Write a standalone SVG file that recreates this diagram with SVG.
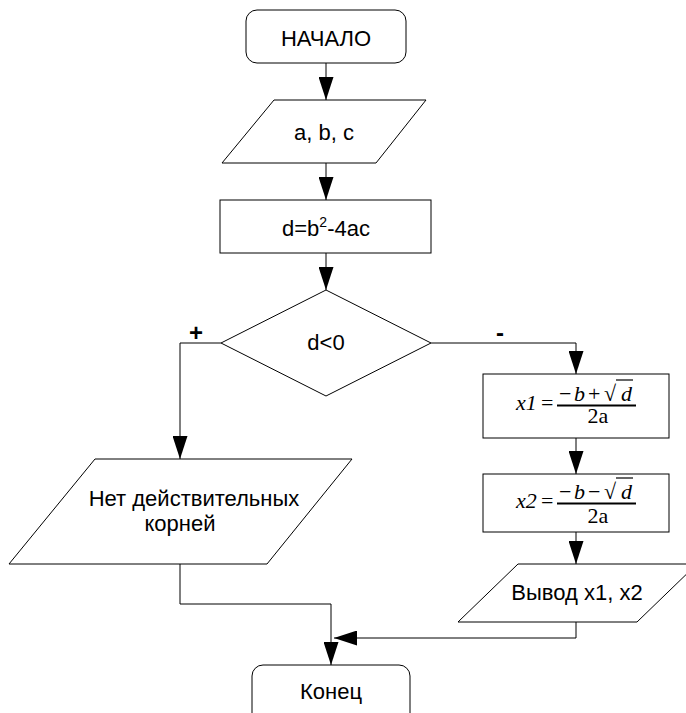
<svg xmlns="http://www.w3.org/2000/svg" width="686" height="713" viewBox="0 0 686 713">
<style>
.s{fill:#fff;stroke:#000;stroke-width:1}
.t{font-family:"Liberation Sans",Arial,sans-serif;font-size:22px;fill:#000;text-anchor:middle}
.m{font-family:"Liberation Serif","Times New Roman",serif;font-size:22px;fill:#000}
.i{font-style:italic}
.c{fill:none;stroke:#000;stroke-width:1}
.b{font-family:"Liberation Sans",Arial,sans-serif;font-size:24px;font-weight:bold;fill:#000;text-anchor:middle}
.f{stroke:#000;stroke-width:2}
.o{stroke:#000;stroke-width:1.2}
</style>
<defs>
<marker id="ah" markerUnits="userSpaceOnUse" markerWidth="23" markerHeight="15" refX="23" refY="7.5" orient="auto">
<path d="M0,0 L23,7.5 L0,15 z" fill="#000"/>
</marker>
</defs>
<rect width="686" height="713" fill="#fff"/>
<g id="connectors">
<path class="c" d="M326,63 V100" marker-end="url(#ah)"/>
<path class="c" d="M326,163 V200" marker-end="url(#ah)"/>
<path class="c" d="M326,253 V290" marker-end="url(#ah)"/>
<path class="c" d="M221,343 H180 V459" marker-end="url(#ah)"/>
<path class="c" d="M431,343 H576 V374" marker-end="url(#ah)"/>
<path class="c" d="M576,438 V474" marker-end="url(#ah)"/>
<path class="c" d="M576,532 V564" marker-end="url(#ah)"/>
<path class="c" d="M180,564 V604 H331 V665" marker-end="url(#ah)"/>
<path class="c" d="M576,622 V638 H334" marker-end="url(#ah)"/>
<text class="b" x="196" y="341">+</text>
<text class="b" x="500" y="341">-</text>
</g>
<g id="start">
<rect class="s" x="246" y="10" width="160" height="53" rx="11"/>
<text class="t" x="326" y="46">НАЧАЛО</text>
</g>
<g id="input">
<path class="s" d="M274,100 H426 L376,163 H222 Z"/>
<text class="t" x="324" y="140">a, b, c</text>
</g>
<g id="calc-d">
<rect class="s" x="220" y="200" width="211" height="53"/>
<text class="t" x="326" y="236">d=b<tspan font-size="14" dy="-9">2</tspan><tspan dy="9">-4ac</tspan></text>
</g>
<g id="decision">
<path class="s" d="M326,290 L431,343 L326,396 L221,343 Z"/>
<text class="t" x="326" y="350">d&lt;0</text>
</g>
<g id="no-roots">
<path class="s" d="M95,459 H352 L267,564 H9 Z"/>
<text class="t" x="194" y="506">Нет действительных</text>
<text class="t" x="180" y="531">корней</text>
</g>
<g id="x1">
<rect class="s" x="483" y="374" width="186" height="64"/>
<text class="m i" x="516" y="410">x1</text>
<text class="m" x="541" y="410">=</text>
<line class="f" x1="557" y1="405.5" x2="636" y2="405.5"/>
<text class="m" x="559" y="401">−</text>
<text class="m i" x="574" y="401">b</text>
<text class="m" x="588" y="401">+</text>
<text class="m" x="604" y="401">√</text>
<line class="o" x1="616" y1="380" x2="633" y2="380"/>
<text class="m i" x="621" y="401">d</text>
<text class="m" x="598" y="423" text-anchor="middle">2a</text>
</g>
<g id="x2">
<rect class="s" x="483" y="474" width="186" height="58"/>
<text class="m i" x="516" y="508">x2</text>
<text class="m" x="541" y="508">=</text>
<line class="f" x1="557" y1="503.5" x2="636" y2="503.5"/>
<text class="m" x="559" y="499">−</text>
<text class="m i" x="574" y="499">b</text>
<text class="m" x="588" y="499">−</text>
<text class="m" x="604" y="499">√</text>
<line class="o" x1="616" y1="478" x2="633" y2="478"/>
<text class="m i" x="621" y="499">d</text>
<text class="m" x="598" y="523" text-anchor="middle">2a</text>
</g>
<g id="output">
<path class="s" d="M518,564 H697 L637,622 H458 Z"/>
<text class="t" x="577" y="600">Вывод x1, x2</text>
</g>
<g id="end">
<rect class="s" x="252" y="665" width="158" height="60" rx="11"/>
<text class="t" x="331" y="699">Конец</text>
</g>
</svg>
